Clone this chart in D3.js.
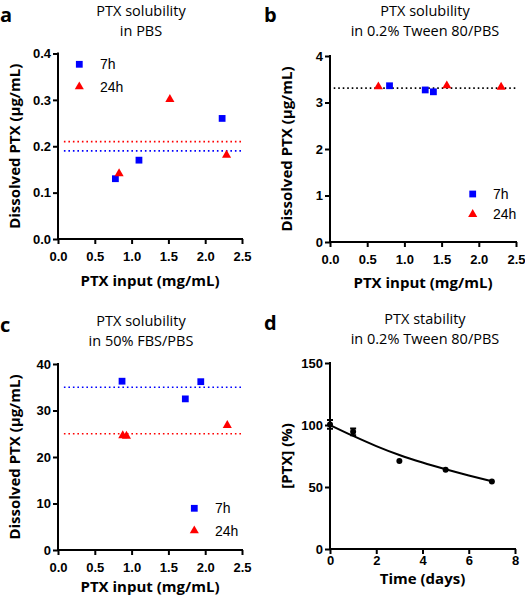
<!DOCTYPE html>
<html><head><meta charset="utf-8">
<script src="https://cdn.jsdelivr.net/npm/d3@7"></script>
<style>
body{margin:0;background:#fff;}
svg{display:block;}
.tick text{font-family:"Liberation Sans",Arial,sans-serif;font-weight:bold;font-size:13px;fill:#000;}
.title{font-family:"Open Sans",sans-serif;font-size:14.5px;fill:#000;}
.alab{font-family:"Open Sans",sans-serif;font-weight:bold;font-size:15px;fill:#000;}
.plet{font-family:"Open Sans",sans-serif;font-weight:bold;font-size:20px;fill:#000;}
.leg{font-family:"Liberation Sans",Arial,sans-serif;font-size:14px;fill:#000;}
</style></head>
<body>
<svg id="c" width="525" height="600"></svg>
<script>
// ---- Data ----
// Panel a: PTX solubility in PBS
const aX7 = [0.78, 1.10, 2.23];
const aY7 = [0.13, 0.17, 0.26];
const aX24 = [0.83, 1.52, 2.29];
const aY24 = [0.14, 0.30, 0.18];
const aMean7 = 0.19, aMean24 = 0.21;
// Panel b: in 0.2% Tween 80/PBS
const bX7 = [0.80, 1.28, 1.39];
const bY7 = [3.36, 3.27, 3.23];
const bX24 = [0.65, 1.57, 2.30];
const bY24 = [3.33, 3.35, 3.32];
const bMean = 3.31;
// Panel c: in 50% FBS/PBS
const cX7 = [0.87, 1.73, 1.94];
const cY7 = [36.3, 32.5, 36.2];
const cX24 = [0.88, 0.93, 2.30];
const cY24 = [24.5, 24.4, 26.7];
const cMean7 = 35, cMean24 = 25;
// Panel d: PTX stability (days, %)
const dDays = [0, 1, 3, 5, 7];
const dPct = [100.5, 94.5, 71, 64, 54.5];
const dErr = [3.5, 2.7, 0, 0, 0];
const dFitDays = [0, 1, 2, 3, 4, 5, 6, 7];
const dFitPct = [100, 91.2, 83, 75.8, 69.7, 64.3, 59.3, 54.6];
// Ticks
const ticksX = [0, 0.5, 1.0, 1.5, 2.0, 2.5];
const ticksYa = [0, 0.1, 0.2, 0.3, 0.4];
const ticksYb = [0, 1, 2, 3, 4];
const ticksYc = [0, 10, 20, 30, 40];
const ticksXd = [0, 2, 4, 6, 8];
const ticksYd = [0, 50, 100, 150];
const seriesNames = ["7h", "24h"];

const svg = d3.select("#c");
const BLUE = "#0000ff", RED = "#ff0000";

function panel(o) {
  const g = svg.append("g");
  const x = d3.scaleLinear().domain(o.xd).range([o.x0, o.x1]);
  const y = d3.scaleLinear().domain(o.yd).range([o.y0, o.y1]);
  const xa = g.append("g").attr("transform", `translate(0,${o.y0})`)
    .call(d3.axisBottom(x).tickValues(o.xt).tickFormat(o.xf).tickSize(5).tickPadding(o.xpad));
  const ya = g.append("g").attr("transform", `translate(${o.x0},0)`)
    .call(d3.axisLeft(y).tickValues(o.yt).tickFormat(o.yf).tickSize(5).tickPadding(2));
  [xa, ya].forEach(a => {
    a.select(".domain").attr("stroke", "#000").attr("stroke-width", 2);
    a.selectAll(".tick line").attr("stroke", "#000").attr("stroke-width", 2);
  });
  xa.select(".domain").attr("d", `M${o.x0 - 1},0H${o.x1 + 1}`);
  ya.select(".domain").attr("d", `M0,${o.y0 + 1}V${o.y1 - 1}`);
  // titles
  g.append("text").attr("class", "title").attr("x", o.tx).attr("y", o.ty).attr("text-anchor", "middle").text(o.t1);
  g.append("text").attr("class", "title").attr("x", o.tx).attr("y", o.ty + 19.5).attr("text-anchor", "middle").text(o.t2);
  g.append("text").attr("class", "plet").attr("x", o.lx).attr("y", o.ly).text(o.letter);
  g.append("text").attr("class", "alab").attr("x", (o.x0 + o.x1) / 2).attr("y", o.y0 + o.xlOff)
    .attr("text-anchor", "middle").text(o.xlab);
  g.append("text").attr("class", "alab")
    .attr("transform", `translate(${o.ylx},${(o.y0 + o.y1) / 2}) rotate(-90)`)
    .attr("text-anchor", "middle").text(o.ylab);
  return {g, x, y};
}

function hline(p, v, col, xs, xe) {
  p.g.append("line").attr("x1", p.x(xs)).attr("x2", p.x(xe)).attr("y1", p.y(v)).attr("y2", p.y(v))
    .attr("stroke", col).attr("stroke-width", 1.6).attr("stroke-dasharray", "1.6,2.9");
}
const sq = d3.symbol().type(d3.symbolSquare).size(46);
const tri = d3.symbol().type(d3.symbolTriangle).size(36);
function pts(p, xs, ys, kind) {
  p.g.selectAll(null).data(xs.map((v, i) => [v, ys[i]])).enter().append("path")
    .attr("d", kind === "sq" ? sq : tri)
    .attr("transform", d => `translate(${p.x(d[0])},${p.y(d[1]) + (kind === "sq" ? 0 : -0.5)})`)
    .attr("fill", kind === "sq" ? BLUE : RED);
}
function legend(p, lx, ly1, ly2, tx) {
  p.g.append("path").attr("d", sq).attr("transform", `translate(${lx},${ly1})`).attr("fill", BLUE);
  p.g.append("path").attr("d", tri).attr("transform", `translate(${lx},${ly2})`).attr("fill", RED);
  p.g.append("text").attr("class", "leg").attr("x", tx).attr("y", ly1 + 5).text(seriesNames[0]);
  p.g.append("text").attr("class", "leg").attr("x", tx).attr("y", ly2 + 5).text(seriesNames[1]);
}

const f1 = d3.format(".1f"), f0 = d3.format("d");
const xlab = "PTX input (mg/mL)", ylab = "Dissolved PTX (µg/mL)";

// Panel a
const pa = panel({x0: 58, x1: 242, y0: 239, y1: 53.5, xd: [0, 2.5], yd: [0, 0.4],
  xt: ticksX, yt: ticksYa, xf: f1, yf: f1, xpad: 8, tx: 141, ty: 16, t1: "PTX solubility", t2: "in PBS",
  letter: "a", lx: 0, ly: 22, xlab, ylab, xlOff: 47, ylx: 20});
hline(pa, aMean24, RED, 0.08, 2.5);
hline(pa, aMean7, BLUE, 0.08, 2.5);
pts(pa, aX7, aY7, "sq");
pts(pa, aX24, aY24, "tri");
legend(pa, 79.3, 64.3, 86.7, 100);

// Panel b
const pb = panel({x0: 330, x1: 516, y0: 242, y1: 56, xd: [0, 2.5], yd: [0, 4],
  xt: ticksX, yt: ticksYb, xf: f1, yf: f0, xpad: 8, tx: 425, ty: 16, t1: "PTX solubility", t2: "in 0.2% Tween 80/PBS",
  letter: "b", lx: 264, ly: 22, xlab, ylab, xlOff: 46, ylx: 292});
hline(pb, bMean, "#000", 0.05, 2.5);
pts(pb, bX7, bY7, "sq");
pts(pb, bX24, bY24, "tri");
legend(pb, 472.7, 194, 214.3, 493);

// Panel c
const pc = panel({x0: 58, x1: 242, y0: 550, y1: 364, xd: [0, 2.5], yd: [0, 40],
  xt: ticksX, yt: ticksYc, xf: f1, yf: f0, xpad: 7.5, tx: 141, ty: 326, t1: "PTX solubility", t2: "in 50% FBS/PBS",
  letter: "c", lx: 0, ly: 332, xlab, ylab, xlOff: 42, ylx: 20});
hline(pc, cMean7, BLUE, 0.08, 2.5);
hline(pc, cMean24, RED, 0.08, 2.5);
pts(pc, cX7, cY7, "sq");
pts(pc, cX24, cY24, "tri");
legend(pc, 194.3, 508.3, 530.7, 215);

// Panel d
const pd = panel({x0: 330, x1: 515, y0: 549, y1: 363, xd: [0, 8], yd: [0, 150],
  xt: ticksXd, yt: ticksYd, xf: f0, yf: f0, xpad: 2, tx: 425, ty: 324, t1: "PTX stability", t2: "in 0.2% Tween 80/PBS",
  letter: "d", lx: 264, ly: 330, xlab: "Time (days)", ylab: "[PTX] (%)", xlOff: 35, ylx: 292});
pd.g.append("path").datum(dFitDays.map((v, i) => [v, dFitPct[i]]))
  .attr("d", d3.line().x(d => pd.x(d[0])).y(d => pd.y(d[1])).curve(d3.curveMonotoneX))
  .attr("fill", "none").attr("stroke", "#000").attr("stroke-width", 2);
const dd = dDays.map((v, i) => ({t: v, p: dPct[i], e: dErr[i]}));
pd.g.selectAll(null).data(dd.filter(d => d.e > 0)).enter().append("path")
  .attr("d", d => `M${pd.x(d.t) - 3},${pd.y(d.p + d.e)}H${pd.x(d.t) + 3}M${pd.x(d.t)},${pd.y(d.p + d.e)}V${pd.y(d.p - d.e)}M${pd.x(d.t) - 3},${pd.y(d.p - d.e)}H${pd.x(d.t) + 3}`)
  .attr("stroke", "#000").attr("stroke-width", 2).attr("fill", "none");
pd.g.selectAll(null).data(dd).enter().append("circle")
  .attr("cx", d => pd.x(d.t)).attr("cy", d => pd.y(d.p)).attr("r", 3).attr("fill", "#000");
</script>
</body></html>
